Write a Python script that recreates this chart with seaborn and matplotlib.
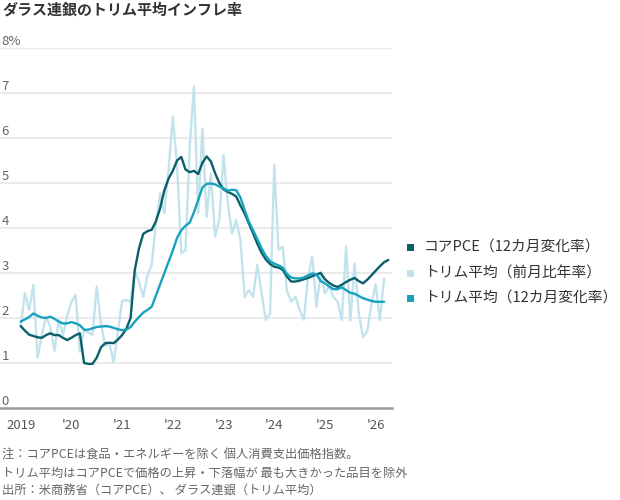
import matplotlib
matplotlib.use("Agg")
import numpy as np
import pandas as pd
import seaborn as sns
import matplotlib.pyplot as plt
from matplotlib.patches import Rectangle

# ---------------- data (monthly, starting Jan 2019) ----------------
start_year = 2019
core_pce = [1.82, 1.72, 1.63, 1.60, 1.57, 1.56, 1.62, 1.66, 1.62, 1.62, 1.56, 1.51,
            1.56, 1.62, 1.66, 1.00, 0.98, 0.98, 1.12, 1.35, 1.44, 1.45, 1.44, 1.52,
            1.62, 1.76, 2.00, 3.07, 3.55, 3.87, 3.93, 3.96, 4.15, 4.44, 4.84, 5.10,
            5.27, 5.50, 5.58, 5.30, 5.24, 5.27, 5.20, 5.45, 5.59, 5.48, 5.22, 5.00,
            4.86, 4.80, 4.76, 4.70, 4.50, 4.32, 4.10, 3.88, 3.65, 3.45, 3.30, 3.20,
            3.14, 3.12, 3.07, 2.92, 2.81, 2.81, 2.83, 2.86, 2.89, 2.93, 2.97, 3.00,
            2.86, 2.78, 2.72, 2.69, 2.74, 2.80, 2.85, 2.89, 2.82, 2.77, 2.85, 2.95,
            3.05, 3.15, 3.24, 3.29]
trim_1m = [1.81, 2.55, 2.18, 2.73, 1.12, 1.62, 2.03, 1.80, 1.27, 1.96, 1.62, 2.05,
           2.36, 2.51, 1.25, 1.72, 1.68, 1.62, 2.70, 1.88, 1.38, 1.44, 1.02, 1.70,
           2.38, 2.40, 2.36, 3.07, 2.80, 2.47, 2.95, 3.18, 4.10, 4.77, 4.33, 5.30,
           6.47, 5.40, 3.44, 3.51, 5.81, 7.14, 4.33, 6.21, 4.25, 5.21, 3.81, 4.18,
           5.62, 4.55, 3.88, 4.18, 3.73, 2.47, 2.62, 2.47, 3.18, 2.55, 1.96, 2.10,
           5.40, 3.51, 3.59, 2.60, 2.36, 2.47, 2.18, 1.96, 2.92, 3.36, 2.25, 3.03,
           2.55, 2.70, 2.47, 2.36, 1.96, 3.59, 1.94, 3.21, 2.10, 1.58, 1.70, 2.30,
           2.75, 1.96, 2.88]
trim_12m = [1.92, 1.97, 2.02, 2.10, 2.05, 2.01, 2.00, 2.03, 1.98, 1.92, 1.88, 1.88,
            1.91, 1.88, 1.84, 1.74, 1.74, 1.77, 1.80, 1.81, 1.82, 1.81, 1.78, 1.75,
            1.73, 1.74, 1.80, 1.92, 2.02, 2.12, 2.18, 2.25, 2.50, 2.75, 3.00, 3.25,
            3.50, 3.78, 3.95, 4.05, 4.12, 4.35, 4.62, 4.90, 4.98, 4.99, 4.97, 4.92,
            4.88, 4.83, 4.85, 4.84, 4.68, 4.40, 4.14, 3.95, 3.75, 3.55, 3.38, 3.26,
            3.21, 3.17, 3.12, 2.98, 2.90, 2.88, 2.88, 2.90, 2.95, 2.99, 2.97, 2.82,
            2.77, 2.70, 2.64, 2.64, 2.68, 2.62, 2.56, 2.54, 2.49, 2.44, 2.41, 2.38,
            2.36, 2.36, 2.36]

series_names = ["コアPCE（12カ月変化率）", "トリム平均（前月比年率）", "トリム平均（12カ月変化率）"]
series_colors = ["#0a5f6b", "#c3e3ec", "#17a2bd"]
year_ticks = [2019, 2020, 2021, 2022, 2023, 2024, 2025, 2026]
year_labels = ["2019", "'20", "'21", "'22", "'23", "'24", "'25", "'26"]
y_ticks = [0, 1, 2, 3, 4, 5, 6, 7, 8]
y_labels = ["0", "1", "2", "3", "4", "5", "6", "7", "8%"]
title = "ダラス連銀のトリム平均インフレ率"
notes = ["注：コアPCEは食品・エネルギーを除く 個人消費支出価格指数。",
         "トリム平均はコアPCEで価格の上昇・下落幅が 最も大きかった品目を除外",
         "出所：米商務省（コアPCE）、 ダラス連銀（トリム平均）"]

# ---------------- build long table ----------------
rows = []
for name, vals in zip(series_names, [core_pce, trim_1m, trim_12m]):
    for i, v in enumerate(vals):
        rows.append({"t": start_year + i / 12.0, "v": v, "series": name})
df = pd.DataFrame(rows)

sns.set_style("white")
plt.rcParams["font.family"] = ["Noto Sans CJK JP", "DejaVu Sans"]

W, H = 620, 500
fig = plt.figure(figsize=(W / 100, H / 100), dpi=100)
ax_left, ax_right, ax_top, ax_bot = 0, 392, 48, 408
ax = fig.add_axes([ax_left / W, 1 - ax_bot / H, (ax_right - ax_left) / W, (ax_bot - ax_top) / H])

palette = dict(zip(series_names, series_colors))
draw_order = [series_names[1], series_names[0], series_names[2]]
sns.lineplot(data=df, x="t", y="v", hue="series", hue_order=draw_order,
             palette=palette, linewidth=1.7, legend=False, ax=ax)

ax.set_xlim(2018.592, 2026.322)
ax.set_ylim(0, 8)
ax.set_xlabel("")
ax.set_ylabel("")

# gridlines
for yt in y_ticks[1:]:
    ax.axhline(yt, color="#ebebeb", linewidth=1.5, zorder=0)
for s in ["top", "right", "left"]:
    ax.spines[s].set_visible(False)
ax.spines["bottom"].set_color("#9a9a9a")
ax.spines["bottom"].set_linewidth(1.8)
ax.spines["bottom"].set_zorder(5)

ax.set_yticks([])
ax.set_xticks(year_ticks)
ax.set_xticklabels(year_labels)
ax.tick_params(axis="x", direction="out", length=4, width=1, color="#888888",
               labelsize=9.5, labelcolor="#555555", pad=4)

ytr = ax.get_yaxis_transform()
for yt, lab in zip(y_ticks, y_labels):
    ax.text(0.004, yt + 0.07, lab, transform=ytr, ha="left", va="baseline",
            fontsize=9.5, color="#666666")

# title
fig.text(2 / W, 1 - 10 / H, title, ha="left", va="center", fontsize=10.8,
         fontweight="bold", color="#333333")

# legend (manual)
leg_y = [247.5, 273, 298.5]
for yy, name, col in zip(leg_y, series_names, series_colors):
    fig.add_artist(Rectangle((407 / W, 1 - (yy + 3.5) / H), 7 / W, 7 / H,
                             transform=fig.transFigure, facecolor=col, edgecolor="none"))
    fig.text(424 / W, 1 - yy / H, name, ha="left", va="center", fontsize=10.6,
             color="#333333")

# notes
for yy, line in zip([455, 473, 490.5], notes):
    fig.text(2 / W, 1 - yy / H, line, ha="left", va="center", fontsize=8.8,
             color="#666666")

fig.savefig("out.png", dpi=100)
